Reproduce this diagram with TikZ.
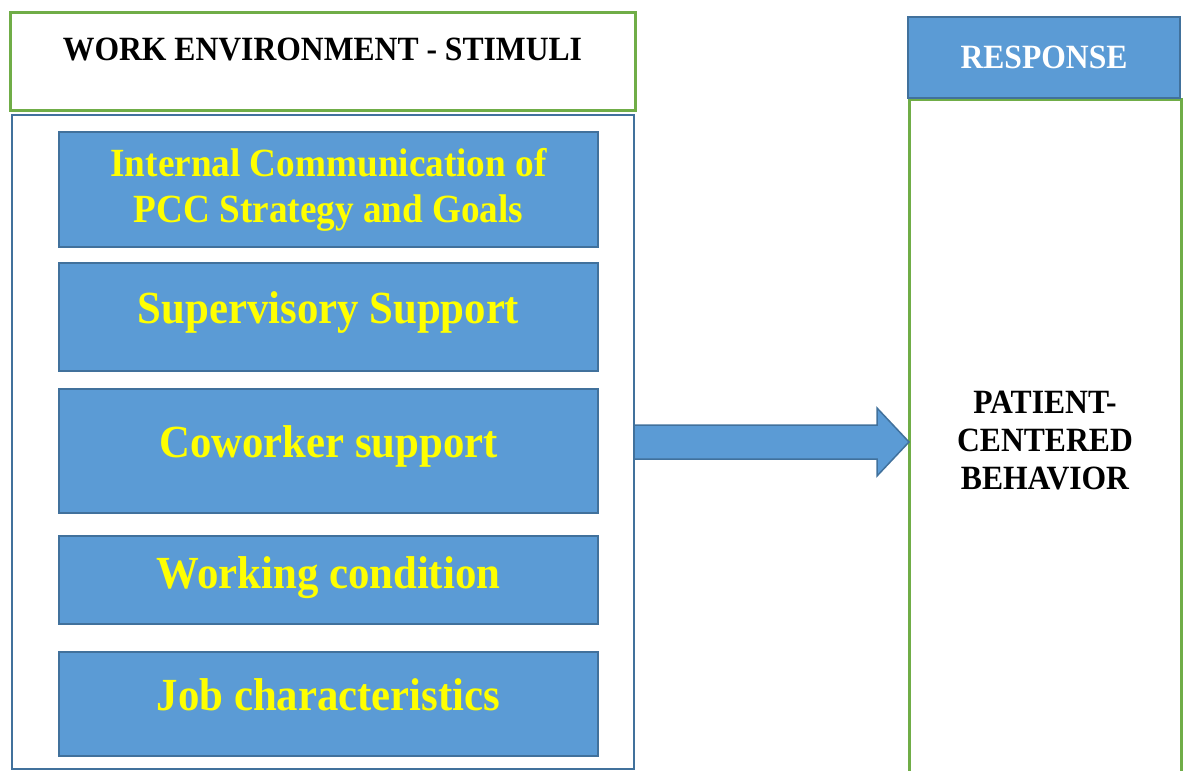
\documentclass[tikz,border=0pt]{standalone}
\usepackage{fontspec}
\setmainfont{Liberation Serif}[FakeStretch=0.93]
\usetikzlibrary{positioning}
\definecolor{boxblue}{HTML}{5B9BD5}
\definecolor{edgeblue}{HTML}{41719C}
\definecolor{framegreen}{HTML}{70AD47}
\definecolor{textyellow}{HTML}{FFFF00}
\begin{document}
\begin{tikzpicture}[x=1pt, y=-1pt,
  frame/.style={draw=framegreen, line width=3pt, fill=white, inner sep=0pt, outer sep=0pt},
  panel/.style={draw=edgeblue, line width=2pt, inner sep=0pt, outer sep=0pt},
  factor/.style={draw=edgeblue, line width=1.5pt, fill=boxblue, minimum width=539pt,
    inner sep=0pt, outer sep=0pt, text=textyellow, align=center},
  oneline/.style={font=\fontsize{46}{52}\selectfont\bfseries, text height=32pt, text depth=20pt},
  heading/.style={font=\fontsize{34}{38}\selectfont\bfseries, align=center},
  bigarrow/.style={draw=edgeblue, line width=1.5pt, fill=boxblue, line join=miter}]
  \useasboundingbox (0,0) rectangle (1184,771);
  % stimuli side
  \node[frame, heading, text height=22pt, text depth=24pt, minimum width=625pt, minimum height=98pt] (title)
    at (322.5,61) {WORK ENVIRONMENT - STIMULI};
  \node[panel, minimum width=622pt, minimum height=654pt] (stim) at (323,442) {};
  \node[factor, font=\fontsize{40}{46}\selectfont\bfseries, minimum height=115pt] (comm) at (328.5,189.5)
    {Internal Communication of\\PCC Strategy and Goals};
  \node[factor, oneline, minimum height=108pt, below=16pt of comm] (super) {Supervisory Support};
  \node[factor, oneline, minimum height=124pt, below=18pt of super] (cowork) {Coworker support};
  \node[factor, oneline, text depth=16pt, minimum height=88pt, below=23pt of cowork] (cond) {Working condition};
  \node[factor, oneline, minimum height=104pt, below=28pt of cond] (job) {Job characteristics};
  % response side
  \node[frame, heading, minimum width=272pt, minimum height=684pt] (beh) at (1045,441)
    {PATIENT-\\CENTERED\\BEHAVIOR};
  \node[factor, heading, text=white, minimum width=272pt, minimum height=81pt] (resp) at (1044,57.5) {RESPONSE};
  % arrow
  \coordinate (tip) at (stim.east -| beh.west);
  \draw[bigarrow] ([yshift=17pt]stim.east) -- ([xshift=-32pt,yshift=17pt]tip)
    -- ([xshift=-32pt,yshift=34pt]tip) -- (tip) -- ([xshift=-32pt,yshift=-34pt]tip)
    -- ([xshift=-32pt,yshift=-17pt]tip) -- ([yshift=-17pt]stim.east) -- cycle;
\end{tikzpicture}
\end{document}
